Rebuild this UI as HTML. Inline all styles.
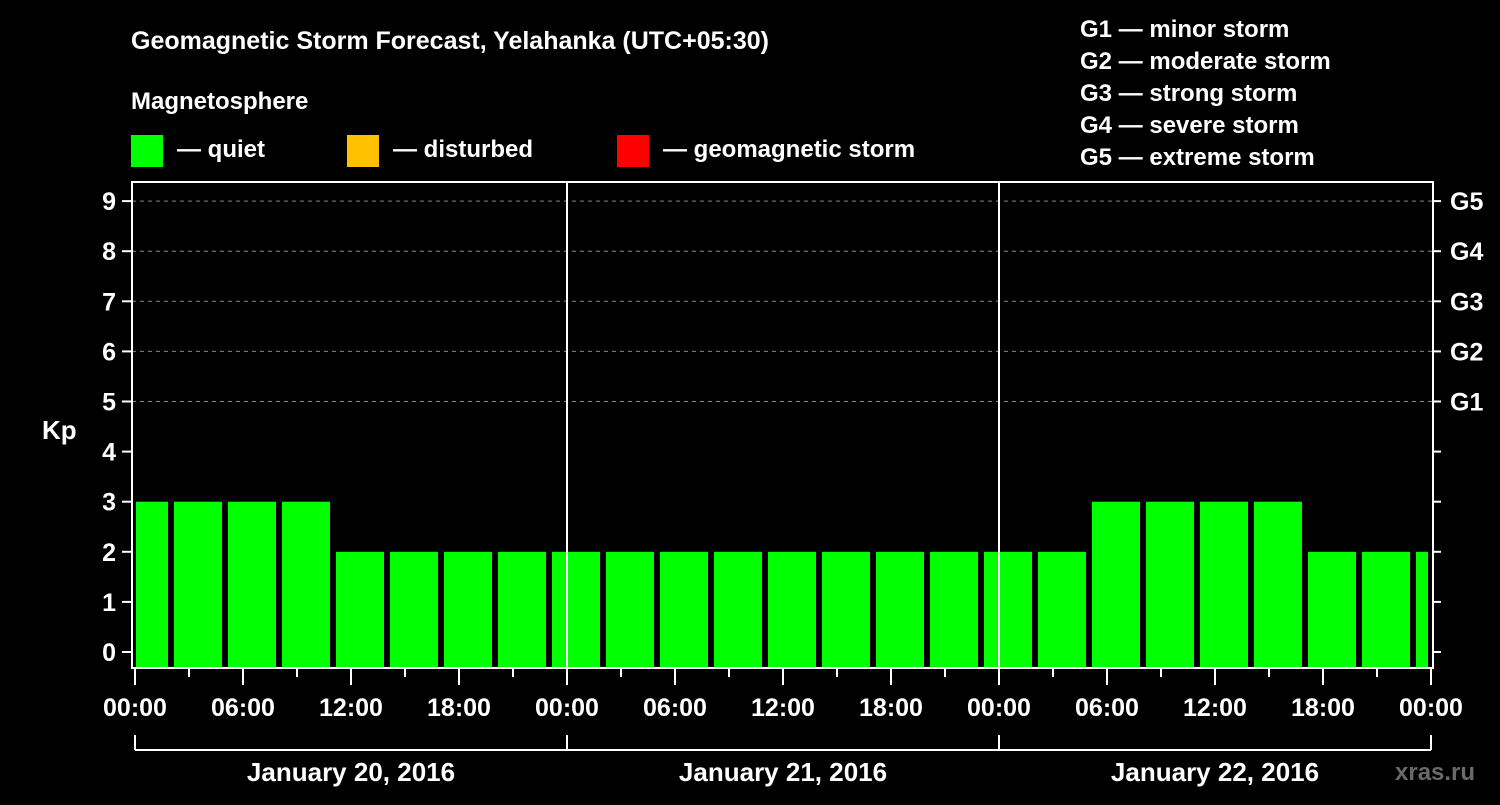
<!DOCTYPE html>
<html><head><meta charset="utf-8"><style>
body{margin:0;background:#000;}
svg text{font-family:"Liberation Sans",sans-serif;font-weight:bold;fill:#fff;}
</style></head><body>
<svg id="c" width="1500" height="800" viewBox="0 0 1500 800" xmlns="http://www.w3.org/2000/svg">
<rect width="1500" height="800" fill="#000"/>
<text x="131" y="49" font-size="25">Geomagnetic Storm Forecast, Yelahanka (UTC+05:30)</text>
<text x="131" y="109" font-size="24">Magnetosphere</text>
<g><rect x="131" y="135" width="32" height="32" fill="#00ff00"/><text x="177" y="157" font-size="24">— quiet</text></g>
<g><rect x="347" y="135" width="32" height="32" fill="#ffc000"/><text x="393" y="157" font-size="24">— disturbed</text></g>
<g><rect x="617" y="135" width="32" height="32" fill="#ff0000"/><text x="663" y="157" font-size="24">— geomagnetic storm</text></g>
<g font-size="24">
<text x="1080" y="37">G1 — minor storm</text>
<text x="1080" y="69">G2 — moderate storm</text>
<text x="1080" y="101">G3 — strong storm</text>
<text x="1080" y="133">G4 — severe storm</text>
<text x="1080" y="165">G5 — extreme storm</text>
</g>
<text x="42" y="439" font-size="26">Kp</text>
<g id="grid"></g><g id="bars"></g><g id="axes"></g>
<text x="1395" y="780" font-size="24" fill="#777" style="fill:#6a6a6a">xras.ru</text>
</svg>
<script>
const kpValues=[3,3,3,3,2,2,2,2,2,2,2,2,2,2,2,2,2,2,3,3,3,3,2,2,2];
const yTicks=[0,1,2,3,4,5,6,7,8,9];
const gLabels=["G1","G2","G3","G4","G5"];
const gLevels=[5,6,7,8,9];
const xTickLabels=["00:00","06:00","12:00","18:00","00:00","06:00","12:00","18:00","00:00","06:00","12:00","18:00","00:00"];
const dayLabels=["January 20, 2016","January 21, 2016","January 22, 2016"];
const NS="http://www.w3.org/2000/svg";
const L=132,R=1433,T=182,B=668;
const x0=135,pxPerHour=18;
const X=h=>x0+h*pxPerHour;
const Y=k=>652-50.1*k;
function mk(tag,attrs,parent,txt){const e=document.createElementNS(NS,tag);for(const k in attrs)e.setAttribute(k,attrs[k]);if(txt!==undefined)e.textContent=txt;parent.appendChild(e);return e;}
const grid=document.getElementById('grid'),bars=document.getElementById('bars'),axes=document.getElementById('axes');
gLevels.forEach((g,i)=>{
 const l=mk('line',{x1:L,x2:R,y1:Y(g),y2:Y(g),stroke:'#888','stroke-dasharray':'4,4','stroke-width':1},grid);
 
 
 const t=mk('text',{x:1450,y:Y(g)+9,'font-size':25},axes,gLabels[i]);
 
 
});
// bars: 3-hour slots starting at -1h offset (local), gap 6px
const slotStart=-1;
kpValues.forEach((v,i)=>{
 let xa=X(slotStart+i*3)+3, xb=X(slotStart+(i+1)*3)-3;
 xa=Math.max(xa,L+4); xb=Math.min(xb,R-5);
 const r=mk('rect',{x:xa,y:Y(v),width:xb-xa,height:B-1-Y(v),fill:'#00ff00'},bars);
 
 
});
// frame
const f=mk('rect',{x:L,y:T,width:R-L,height:B-T,fill:'none',stroke:'#fff','stroke-width':2},axes);


[24,48].forEach(h=>{const d=mk('line',{x1:X(h),x2:X(h),y1:T,y2:B,stroke:'#fff','stroke-width':2},axes);
 
 });
yTicks.forEach(k=>{
 mk('line',{x1:L-10,x2:L,y1:Y(k),y2:Y(k),stroke:'#fff','stroke-width':2},axes);
 mk('line',{x1:R,x2:R+8,y1:Y(k),y2:Y(k),stroke:'#fff','stroke-width':2},axes);
 const t=mk('text',{x:L-16,y:Y(k)+9,'font-size':25,'text-anchor':'end'},axes,k);
 
 
});
for(let h=0;h<=72;h+=3){
 const long=h%6===0;
 mk('line',{x1:X(h),x2:X(h),y1:B,y2:B+(long?17:9),stroke:'#fff','stroke-width':2},axes);
}
xTickLabels.forEach((s,i)=>{
 const t=mk('text',{x:X(i*6),y:716,'font-size':25,'text-anchor':'middle'},axes,s);
 
 
});
mk('line',{x1:X(0),x2:X(72),y1:750,y2:750,stroke:'#fff','stroke-width':2},axes);
[0,24,48,72].forEach(h=>mk('line',{x1:X(h),x2:X(h),y1:735,y2:750,stroke:'#fff','stroke-width':2},axes));
dayLabels.forEach((s,i)=>{
 const t=mk('text',{x:X(i*24+12),y:781,'font-size':26,'text-anchor':'middle'},axes,s);
 
 
});
</script>
</body></html>
